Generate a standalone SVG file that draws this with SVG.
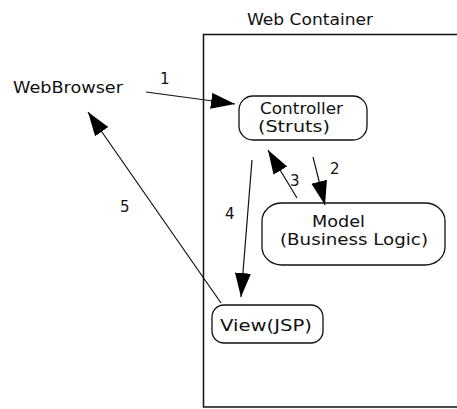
<svg xmlns="http://www.w3.org/2000/svg" width="457" height="409" viewBox="0 0 457 409">
<defs>
<style>
text{font-family:"DejaVu Sans","Liberation Sans",sans-serif;font-size:15px;fill:#111}
.node{fill:#fff;stroke:#111;stroke-width:1.3}
.edge{stroke:#111;stroke-width:1.2;fill:none;marker-end:url(#ah)}
</style>
<marker id="ah" markerUnits="userSpaceOnUse" markerWidth="26" markerHeight="18" refX="24" refY="8" orient="auto">
<path d="M0,0 L24,8 L0,16 Z" fill="#000"/>
</marker>
</defs>
<rect width="457" height="409" fill="#fff"/>
<g id="container">
<rect x="203.5" y="34.5" width="300" height="372.5" fill="none" stroke="#111" stroke-width="1.5"/>
<text x="247" y="25" textLength="126" lengthAdjust="spacingAndGlyphs">Web Container</text>
</g>
<g id="webbrowser">
<text x="13" y="93" textLength="110" lengthAdjust="spacingAndGlyphs">WebBrowser</text>
</g>
<g id="controller">
<rect class="node" x="239" y="96" width="128" height="44" rx="14" ry="14"/>
<text x="260" y="114" textLength="83" lengthAdjust="spacingAndGlyphs">Controller</text>
<text x="258" y="132" textLength="72" lengthAdjust="spacingAndGlyphs">(Struts)</text>
</g>
<g id="model">
<rect class="node" x="262" y="203" width="183" height="62" rx="20" ry="18"/>
<text x="312" y="227" textLength="53" lengthAdjust="spacingAndGlyphs">Model</text>
<text x="280" y="245" textLength="148" lengthAdjust="spacingAndGlyphs">(Business Logic)</text>
</g>
<g id="view">
<rect class="node" x="212" y="305" width="111" height="38" rx="12" ry="12"/>
<text x="220" y="331" textLength="92" lengthAdjust="spacingAndGlyphs">View(JSP)</text>
</g>
<g id="connectors">
<line class="edge" x1="146" y1="92" x2="235" y2="104"/>
<line class="edge" x1="313" y1="157" x2="325" y2="205"/>
<line class="edge" x1="297" y1="198" x2="268" y2="150"/>
<line class="edge" x1="252" y1="160" x2="241" y2="297"/>
<line class="edge" x1="221" y1="303" x2="88" y2="112"/>
<text x="160" y="84">1</text>
<text x="330" y="174">2</text>
<text x="290" y="186">3</text>
<text x="225" y="219">4</text>
<text x="120" y="212">5</text>
</g>
</svg>
